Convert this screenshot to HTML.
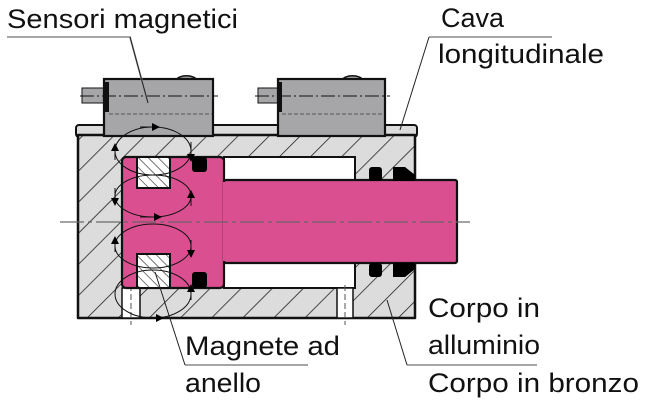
<!DOCTYPE html>
<html><head><meta charset="utf-8"><style>
html,body{margin:0;padding:0;background:#fff}
svg{display:block}
text{font-family:"Liberation Sans",sans-serif;font-size:27px;fill:#111}
</style></head><body>
<svg width="646" height="401" viewBox="0 0 646 401" xmlns="http://www.w3.org/2000/svg">
<defs>
<pattern id="h" patternUnits="userSpaceOnUse" width="22" height="22" patternTransform="rotate(45)">
<rect width="22" height="22" fill="#dcdcdd"/><line x1="0" y1="0" x2="0" y2="22" stroke="#222" stroke-width="1.6"/></pattern>
<pattern id="m" patternUnits="userSpaceOnUse" width="7" height="7" patternTransform="rotate(-45)">
<rect width="7" height="7" fill="#fff"/><line x1="0" y1="0" x2="0" y2="7" stroke="#222" stroke-width="1.2"/></pattern>
<marker id="a" markerWidth="8" markerHeight="8" refX="6" refY="4" orient="auto" markerUnits="userSpaceOnUse"><path d="M0,0 L8,4 L0,8 Z" fill="#000"/></marker>
</defs>
<!-- top strip -->
<rect x="76" y="125" width="341" height="12" rx="3" fill="#dcdcdd" stroke="#111" stroke-width="2"/>
<!-- body -->
<path d="M78,135 H415 V318 H78 Z" fill="url(#h)" stroke="#111" stroke-width="2.5" stroke-linejoin="round"/>
<!-- cavity -->
<rect x="224" y="157" width="131" height="131" fill="#fff" stroke="#111" stroke-width="2"/>
<!-- rod channel -->
<rect x="355" y="180" width="62" height="83" fill="#fff"/>
<!-- bottom holes -->
<rect x="122" y="288" width="18" height="30" fill="#fff" stroke="#111" stroke-width="1.5"/>
<rect x="337" y="288" width="16" height="30" fill="#fff" stroke="#111" stroke-width="1.5"/>
<line x1="131" y1="285" x2="131" y2="325" stroke="#555" stroke-dasharray="6,3"/>
<line x1="345" y1="285" x2="345" y2="325" stroke="#555" stroke-dasharray="6,3"/>
<!-- piston -->
<rect x="122" y="157" width="102" height="131" rx="4" fill="#d94f8f" stroke="#111" stroke-width="2.2"/>
<!-- rod -->
<rect x="224" y="180" width="233" height="83" rx="2" fill="#d94f8f" stroke="#111" stroke-width="2.2"/>
<rect x="223" y="182" width="4" height="79" fill="#d94f8f"/>
<!-- magnets -->
<rect x="137" y="157" width="33" height="31" fill="url(#m)" stroke="#111" stroke-width="2"/>
<rect x="137" y="254" width="33" height="34" fill="url(#m)" stroke="#111" stroke-width="2"/>
<!-- piston seals -->
<rect x="192" y="157" width="15" height="15" rx="3" fill="#000"/>
<rect x="192" y="272" width="15" height="16" rx="3" fill="#000"/>
<!-- rod seals -->
<rect x="369" y="167" width="13" height="14" rx="3" fill="#000"/>
<path d="M393,167 h12 l10,8 v6 h-22 z" fill="#000"/>
<rect x="369" y="263" width="13" height="14" rx="3" fill="#000"/>
<path d="M393,263 h22 v6 l-10,8 h-12 z" fill="#000"/>
<!-- sensors -->
<g>
<rect x="82" y="88" width="22" height="15" fill="#a6a6a8" stroke="#111" stroke-width="1"/>
<path d="M176,80 a11,6 0 0 1 21,0" fill="#a6a6a8" stroke="#111" stroke-width="1.5"/>
<rect x="104" y="79" width="109" height="57" fill="#a6a6a8" stroke="#111" stroke-width="2.2"/>
<rect x="104" y="82" width="5" height="30" fill="#111"/>
<line x1="80" y1="96" x2="218" y2="96" stroke="#111" stroke-width="1" stroke-dasharray="14,3,2,3"/>
<line x1="109" y1="114" x2="212" y2="114" stroke="#666" stroke-width="1.2" stroke-dasharray="4,2"/>
<rect x="258" y="88" width="20" height="15" fill="#a6a6a8" stroke="#111" stroke-width="1"/>
<path d="M342,80 a11,6 0 0 1 21,0" fill="#a6a6a8" stroke="#111" stroke-width="1.5"/>
<rect x="278" y="79" width="107" height="57" fill="#a6a6a8" stroke="#111" stroke-width="2.2"/>
<rect x="278" y="82" width="4" height="30" fill="#111"/>
<line x1="255" y1="96" x2="390" y2="96" stroke="#111" stroke-width="1" stroke-dasharray="14,3,2,3"/>
<line x1="282" y1="114" x2="384" y2="114" stroke="#666" stroke-width="1.2" stroke-dasharray="4,2"/>
</g>
<!-- centerline -->
<line x1="60" y1="222" x2="470" y2="222" stroke="#666" stroke-width="1.5" stroke-dasharray="24,4,4,4" opacity="0.8"/>
<!-- flux loops -->
<g fill="none" stroke="#111" stroke-width="1">
<ellipse cx="153" cy="151" rx="38" ry="24"/>
<ellipse cx="153" cy="196" rx="38" ry="21"/>
<ellipse cx="153" cy="246" rx="38" ry="22"/>
<ellipse cx="153" cy="294" rx="38" ry="24"/>
<path d="M140,127 L158,127" marker-end="url(#a)"/>
<path d="M191,142 L191,160" marker-end="url(#a)"/>
<path d="M115,160 L115,145" marker-end="url(#a)"/>
<path d="M115,188 L115,204" marker-end="url(#a)"/>
<path d="M191,206 L191,192" marker-end="url(#a)"/>
<path d="M140,217 L160,217" marker-end="url(#a)"/>
<path d="M115,252 L115,238" marker-end="url(#a)"/>
<path d="M191,240 L191,256" marker-end="url(#a)"/>
<path d="M191,300 L191,286" marker-end="url(#a)"/>
<path d="M140,318 L162,318" marker-end="url(#a)"/>
</g>
<!-- leaders -->
<g stroke="#222" stroke-width="1" fill="none">
<polyline points="7,37 130,37 148,103" stroke="#999" stroke-width="1.8"/>
<line x1="130" y1="37" x2="148" y2="103"/>
<polyline points="552,37 429,37" stroke="#999" stroke-width="1.8"/>
<line x1="429" y1="37" x2="400" y2="130"/>
<polyline points="308,365 185,365" stroke="#999" stroke-width="1.8"/>
<line x1="185" y1="365" x2="155" y2="272"/>
<polyline points="537,365 407,365" stroke="#999" stroke-width="1.8"/>
<line x1="407" y1="365" x2="387" y2="300"/>
</g>
<!-- labels -->
<text x="7" y="28" textLength="231" lengthAdjust="spacingAndGlyphs">Sensori magnetici</text>
<text x="441" y="27" textLength="63" lengthAdjust="spacingAndGlyphs">Cava</text>
<text x="438" y="63" textLength="166" lengthAdjust="spacingAndGlyphs">longitudinale</text>
<text x="428" y="317" textLength="112" lengthAdjust="spacingAndGlyphs">Corpo in</text>
<text x="428" y="354" textLength="112" lengthAdjust="spacingAndGlyphs">alluminio</text>
<text x="428" y="392" textLength="211" lengthAdjust="spacingAndGlyphs">Corpo in bronzo</text>
<text x="185" y="355" textLength="155" lengthAdjust="spacingAndGlyphs">Magnete ad</text>
<text x="185" y="392" textLength="76" lengthAdjust="spacingAndGlyphs">anello</text>
</svg>
</body></html>
